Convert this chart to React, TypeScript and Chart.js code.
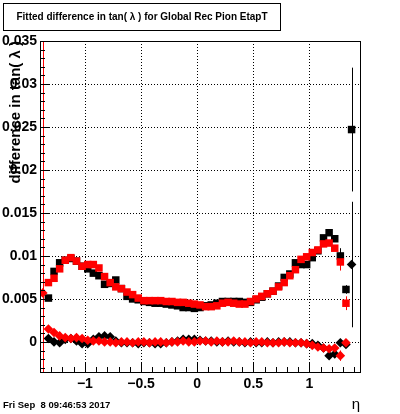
import { useEffect, useRef } from "react";
import { Chart, registerables } from "chart.js";

Chart.register(...registerables);

// ---- data ----
const etaCenters = [
  -1.375, -1.325, -1.275, -1.225, -1.175, -1.125, -1.075, -1.025, -0.975, -0.925,
  -0.875, -0.825, -0.775, -0.725, -0.675, -0.625, -0.575, -0.525, -0.475, -0.425,
  -0.375, -0.325, -0.275, -0.225, -0.175, -0.125, -0.075, -0.025, 0.025, 0.075,
  0.125, 0.175, 0.225, 0.275, 0.325, 0.375, 0.425, 0.475, 0.525, 0.575,
  0.625, 0.675, 0.725, 0.775, 0.825, 0.875, 0.925, 0.975, 1.025, 1.075,
  1.125, 1.175, 1.225, 1.275, 1.325, 1.375,
];

const blackSquareValues = [
  null, 0.0051, 0.0082, 0.0092, 0.0095, 0.0097, 0.0094, 0.0088, 0.0085, 0.0080,
  0.0077, 0.0067, 0.0068, 0.0072, 0.0062, 0.0053, 0.0050, 0.0049, 0.0047, 0.0046,
  0.0045, 0.0045, 0.0044, 0.0043, 0.0042, 0.0040, 0.0040, 0.0039, 0.0040, 0.0042,
  0.0043, 0.0045, 0.0047, 0.0047, 0.0047, 0.0047, 0.0046, 0.0046, 0.0049, 0.0052,
  0.0056, 0.0059, 0.0065, 0.0075, 0.0079, 0.0092, 0.0090, 0.0090, 0.0098, 0.0106,
  0.0121, 0.0127, 0.0120, 0.0100, 0.0061, 0.0247,
];

const redSquareValues = [
  null, 0.0069, 0.0074, 0.0085, 0.0095, 0.0098, 0.0094, 0.0088, 0.0090, 0.0090,
  0.0086, 0.0076, 0.0069, 0.0064, 0.0062, 0.0058, 0.0055, 0.0051, 0.0048, 0.0048,
  0.0048, 0.0048, 0.0047, 0.0047, 0.0046, 0.0046, 0.0045, 0.0044, 0.0043, 0.0041,
  0.0041, 0.0042, 0.0045, 0.0046, 0.0045, 0.0044, 0.0044, 0.0047, 0.0050, 0.0053,
  0.0056, 0.0059, 0.0064, 0.0069, 0.0077, 0.0084, 0.0096, 0.0099, 0.0104, 0.0107,
  0.0114, 0.0115, 0.0109, 0.0093, 0.0045, null,
];

const blackDiamondValues = [
  null, 0.0004, 0.0000, -0.0001, 0.0003, 0.0004, 0.0001, -0.0002, -0.0002, 0.0003,
  0.0006, 0.0007, 0.0006, 0.0001, -0.0001, -0.0001, -0.0001, -0.0002, -0.0001, -0.0001,
  -0.0002, -0.0002, -0.0001, 0.0000, 0.0001, 0.0003, 0.0003, 0.0003, 0.0002, 0.0001,
  0.0001, 0.0000, 0.0000, 0.0001, 0.0000, 0.0000, -0.0001, 0.0000, -0.0001, -0.0001,
  0.0000, -0.0001, 0.0000, 0.0000, 0.0000, -0.0001, -0.0001, -0.0002, -0.0002, -0.0004,
  -0.0007, -0.0016, -0.0014, -0.0001, -0.0003, 0.0090,
];

const redDiamondValues = [
  0.0057, 0.0015, 0.0011, 0.0007, 0.0005, 0.0004, 0.0005, 0.0004, 0.0002, 0.0001,
  0.0001, 0.0000, 0.0000, -0.0001, 0.0000, 0.0000, -0.0001, 0.0000, 0.0000, -0.0001,
  0.0000, 0.0000, -0.0001, 0.0000, 0.0000, 0.0001, 0.0000, 0.0000, 0.0001, 0.0001,
  0.0000, 0.0001, 0.0000, 0.0000, 0.0001, 0.0000, 0.0000, -0.0001, 0.0000, 0.0000,
  -0.0001, -0.0001, -0.0001, 0.0000, -0.0001, -0.0001, -0.0001, -0.0002, -0.0004, -0.0006,
  -0.0007, -0.0008, -0.0007, -0.0016, -0.0001, null,
];

// visible error bars: [bin index, error]
const blackSquareErrors: [number, number][] = [[53, 0.0009], [54, 0.0005], [55, 0.0072]];
const redSquareErrors: [number, number][] = [[53, 0.001], [54, 0.0008]];
const blackDiamondErrors: [number, number][] = [[55, 0.0073]];
const redDiamondErrors: [number, number][] = [[0, 0.05], [53, 0.0006]];

const yTickValues = [0, 0.005, 0.01, 0.015, 0.02, 0.025, 0.03, 0.035];
const yTickLabels = ["0", "0.005", "0.01", "0.015", "0.02", "0.025", "0.03", "0.035"];
const xTickValues = [-1, -0.5, 0, 0.5, 1];
const xTickLabels = ["\u22121", "\u22120.5", "0", "0.5", "1"];

const titleText = "Fitted difference in tan( \u03bb ) for Global Rec Pion EtapT";
const yTitleText = "difference in tan( \u03bb )";
const xTitleText = "\u03b7";
const dateText = "Fri Sep  8 09:46:53 2017";

const X_MIN = -1.4;
const X_MAX = 1.45;
const Y_MIN = -0.0035;
const Y_MAX = 0.035;

const FONT = '"Liberation Sans", Arial, Helvetica, sans-serif';

function toPoints(vals: (number | null)[]) {
  const pts: { x: number; y: number }[] = [];
  vals.forEach((v, i) => {
    if (v !== null) pts.push({ x: etaCenters[i], y: v });
  });
  return pts;
}

const series = [
  { vals: redSquareValues, errs: redSquareErrors, color: "#ff0000" },
  { vals: redDiamondValues, errs: redDiamondErrors, color: "#ff0000" },
  { vals: blackSquareValues, errs: blackSquareErrors, color: "#000000" },
  { vals: blackDiamondValues, errs: blackDiamondErrors, color: "#000000" },
];

const rootPlugin = {
  id: "rootStyle",
  beforeDatasetsDraw(chart: any) {
    const { ctx, chartArea: a, scales } = chart;
    const xs = scales.x;
    const ys = scales.y;
    ctx.save();
    // dotted grid
    ctx.strokeStyle = "#000";
    ctx.lineWidth = 1;
    ctx.setLineDash([1, 2]);
    ctx.beginPath();
    for (const v of xTickValues) {
      const px = Math.round(xs.getPixelForValue(v)) + 0.5;
      ctx.moveTo(px, a.top);
      ctx.lineTo(px, a.bottom);
    }
    for (const v of yTickValues) {
      const py = Math.round(ys.getPixelForValue(v)) + 0.5;
      ctx.moveTo(a.left, py);
      ctx.lineTo(a.right, py);
    }
    ctx.stroke();
    ctx.setLineDash([]);
    // error bars
    ctx.beginPath();
    ctx.rect(a.left, a.top, a.right - a.left, a.bottom - a.top);
    ctx.clip();
    for (const s of series) {
      ctx.strokeStyle = s.color;
      ctx.lineWidth = 1;
      for (const [i, e] of s.errs) {
        const v = s.vals[i];
        if (v === null) continue;
        const px = Math.round(xs.getPixelForValue(etaCenters[i])) + 0.5;
        ctx.beginPath();
        ctx.moveTo(px, ys.getPixelForValue(v - e));
        ctx.lineTo(px, ys.getPixelForValue(v + e));
        ctx.stroke();
      }
    }
    ctx.restore();
  },
  afterDatasetsDraw(chart: any) {
    const { ctx, chartArea: a, scales } = chart;
    const xs = scales.x;
    const ys = scales.y;
    ctx.save();
    ctx.strokeStyle = "#000";
    ctx.lineWidth = 1;
    // frame
    ctx.strokeRect(Math.round(a.left) + 0.5, Math.round(a.top) + 0.5, Math.round(a.right - a.left), Math.round(a.bottom - a.top));
    // ticks
    ctx.beginPath();
    for (let k = -3; k <= 35; k++) {
      const v = k / 1000;
      const py = Math.round(ys.getPixelForValue(v)) + 0.5;
      const len = k % 5 === 0 ? 9 : 5;
      ctx.moveTo(a.left, py);
      ctx.lineTo(a.left + len, py);
    }
    for (let k = -13; k <= 14; k++) {
      const v = k / 10;
      const px = Math.round(xs.getPixelForValue(v)) + 0.5;
      const len = k % 5 === 0 ? 10 : 5;
      ctx.moveTo(px, a.bottom);
      ctx.lineTo(px, a.bottom - len);
    }
    ctx.stroke();
    ctx.restore();
  },
  afterDraw(chart: any) {
    const { ctx, chartArea: a } = chart;
    ctx.save();
    // title box
    ctx.fillStyle = "#fff";
    ctx.fillRect(3, 3, 278, 28);
    ctx.strokeStyle = "#000";
    ctx.lineWidth = 1;
    ctx.strokeRect(3.5, 3.5, 277, 27);
    ctx.fillStyle = "#000";
    ctx.font = `bold 10px ${FONT}`;
    ctx.textAlign = "center";
    ctx.textBaseline = "middle";
    ctx.fillText(titleText, 142, 17);
    // y title
    ctx.save();
    ctx.translate(16, a.top);
    ctx.rotate(-Math.PI / 2);
    ctx.font = `bold 15px ${FONT}`;
    ctx.textAlign = "right";
    ctx.textBaseline = "middle";
    ctx.fillText(yTitleText, 0, 0);
    ctx.restore();
    // x title
    ctx.font = `15px ${FONT}`;
    ctx.textAlign = "right";
    ctx.textBaseline = "middle";
    ctx.fillText(xTitleText, a.right, 405);
    // date
    ctx.font = `bold 9.5px ${FONT}`;
    ctx.textAlign = "left";
    ctx.fillText(dateText, 3, 405.5);
    ctx.restore();
  },
};

export default function App() {
  const ref = useRef<HTMLCanvasElement | null>(null);
  useEffect(() => {
    document.body.style.margin = "0";
    const canvas = ref.current;
    if (!canvas) return;
    const chart = new Chart(canvas, {
      type: "scatter",
      data: {
        datasets: [
          {
            data: toPoints(redSquareValues),
            pointStyle: "rect",
            pointRadius: 5.3,
            backgroundColor: "#ff0000",
            borderWidth: 0,
            order: 0,
          },
          {
            data: toPoints(redDiamondValues),
            pointStyle: "rectRot",
            pointRadius: 4.8,
            backgroundColor: "#ff0000",
            borderWidth: 0,
            order: 1,
          },
          {
            data: toPoints(blackSquareValues),
            pointStyle: "rect",
            pointRadius: 5.3,
            backgroundColor: "#000000",
            borderWidth: 0,
            order: 2,
          },
          {
            data: toPoints(blackDiamondValues),
            pointStyle: "rectRot",
            pointRadius: 4.8,
            backgroundColor: "#000000",
            borderWidth: 0,
            order: 3,
          },
        ],
      },
      options: {
        animation: false,
        responsive: false,
        maintainAspectRatio: false,
        devicePixelRatio: 1,
        layout: { padding: { top: 41, right: 40, left: 0, bottom: 0 } },
        plugins: {
          legend: { display: false },
          tooltip: { enabled: false },
          title: { display: false },
        },
        scales: {
          x: {
            type: "linear",
            min: X_MIN,
            max: X_MAX,
            grid: { display: false, drawTicks: false, tickLength: 0 },
            border: { display: false },
            afterFit: (s: any) => {
              s.height = 42;
            },
            afterBuildTicks: (s: any) => {
              s.ticks = xTickValues.map((v) => ({ value: v }));
            },
            ticks: {
              autoSkip: false,
              maxRotation: 0,
              padding: 5,
              color: "#000",
              font: { family: FONT, size: 14, weight: "bold", lineHeight: 1 },
              callback: (_v: any, i: number) => xTickLabels[i],
            },
          },
          y: {
            type: "linear",
            min: Y_MIN,
            max: Y_MAX,
            grid: { display: false, drawTicks: false, tickLength: 0 },
            border: { display: false },
            afterFit: (s: any) => {
              s.width = 40;
            },
            afterBuildTicks: (s: any) => {
              s.ticks = yTickValues.map((v) => ({ value: v }));
            },
            ticks: {
              autoSkip: false,
              padding: 3,
              color: "#000",
              font: { family: FONT, size: 14, weight: "bold", lineHeight: 1 },
              callback: (_v: any, i: number) => yTickLabels[i],
            },
          },
        },
      },
      plugins: [rootPlugin],
    } as any);
    return () => chart.destroy();
  }, []);
  return (
    <div style={{ width: 400, height: 414, background: "#fff" }}>
      <canvas ref={ref} width={400} height={414} style={{ display: "block" }} />
    </div>
  );
}
